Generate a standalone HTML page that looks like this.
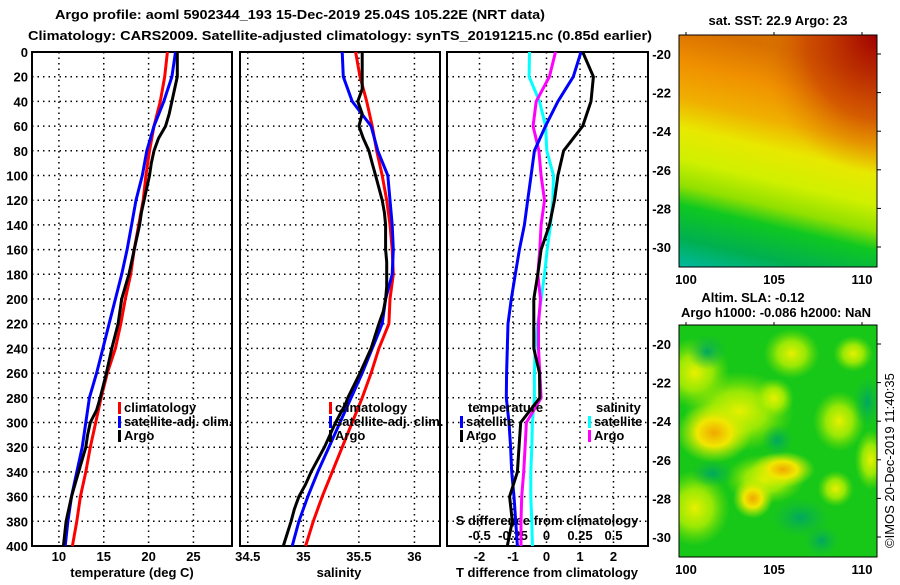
<!DOCTYPE html>
<html><head><meta charset="utf-8"><style>
body{margin:0;background:#fff;}
svg text{font-family:"Liberation Sans",sans-serif;font-weight:bold;font-size:13px;fill:#000;}
</style></head><body>
<svg id="chart" width="900" height="580" xmlns="http://www.w3.org/2000/svg">
<defs>
<linearGradient id="sstg" x1="0.2" y1="0" x2="0" y2="1">
<stop offset="0" stop-color="#d87000"/><stop offset="0.15" stop-color="#f09000"/>
<stop offset="0.3" stop-color="#f0b000"/><stop offset="0.42" stop-color="#e8e800"/>
<stop offset="0.55" stop-color="#d0f000"/><stop offset="0.66" stop-color="#90e000"/>
<stop offset="0.74" stop-color="#10c820"/><stop offset="0.88" stop-color="#00b050"/>
<stop offset="1" stop-color="#00b8a0"/></linearGradient>
<radialGradient id="redc" cx="1" cy="0" r="0.6"><stop offset="0" stop-color="#a00000"/><stop offset="0.6" stop-color="#c84000" stop-opacity="0.7"/><stop offset="1" stop-color="#e08000" stop-opacity="0"/></radialGradient>
<radialGradient id="yb"><stop offset="0" stop-color="#f0a800"/><stop offset="0.45" stop-color="#f0e800"/><stop offset="1" stop-color="#c0f000" stop-opacity="0"/></radialGradient>
<radialGradient id="yl"><stop offset="0" stop-color="#e8f000"/><stop offset="0.5" stop-color="#b8f000" stop-opacity="0.8"/><stop offset="1" stop-color="#80e000" stop-opacity="0"/></radialGradient>
<radialGradient id="gd"><stop offset="0" stop-color="#00a860"/><stop offset="1" stop-color="#10b840" stop-opacity="0"/></radialGradient>
</defs>
<text x="55" y="19" textLength="490" lengthAdjust="spacingAndGlyphs" font-size="15">Argo profile: aoml 5902344_193 15-Dec-2019 25.04S 105.22E (NRT data)</text>
<text x="28" y="40" textLength="624" lengthAdjust="spacingAndGlyphs" font-size="15">Climatology: CARS2009. Satellite-adjusted climatology: synTS_20191215.nc (0.85d earlier)</text>
<g id="plots"></g>
<g id="maps"></g>
<text transform="translate(894,548) rotate(-90)" font-size="12" style="font-weight:normal">©IMOS 20-Dec-2019 11:40:35</text>
</svg>
<script>
const depths = [0,20,40,60,80,100,120,140,160,180,200,220,240,260,280,300,320,340,360,380,400];
const tempClim = [22.1,21.8,21.3,20.6,20.1,19.7,19.4,18.9,18.4,18.0,17.4,16.9,16.3,15.4,14.7,14.1,13.5,13.0,12.4,12.0,11.5];
const tempSat  = [23.0,22.6,21.7,20.6,19.8,19.3,18.6,18.1,17.6,17.0,16.3,15.6,14.9,14.2,13.4,13.0,12.6,12.0,11.4,11.0,10.7];
const argoDepths = [0,20,30,40,50,60,70,80,90,100,120,130,140,150,160,170,180,190,200,210,220,240,260,280,285,290,300,310,320,340,350,360,370,380,400];
const tempArgo = [23.2,23.2,22.9,22.6,22.3,21.9,21.1,20.6,20.3,20.1,19.5,19.2,19.0,18.7,18.4,18.1,17.8,17.4,17.0,16.8,16.6,15.9,15.3,14.6,14.4,14.2,13.5,13.2,13.0,12.2,11.8,11.4,11.1,10.8,10.5];
const salClim = [35.47,35.51,35.57,35.62,35.66,35.71,35.75,35.78,35.80,35.81,35.78,35.77,35.68,35.61,35.53,35.44,35.35,35.26,35.17,35.09,35.02];
const salSat  = [35.35,35.36,35.44,35.61,35.67,35.76,35.78,35.80,35.81,35.80,35.74,35.71,35.62,35.53,35.43,35.33,35.23,35.13,35.04,34.96,34.90];
const salArgo = [35.53,35.53,35.53,35.49,35.53,35.50,35.54,35.59,35.62,35.65,35.71,35.73,35.74,35.74,35.74,35.75,35.75,35.75,35.74,35.72,35.68,35.61,35.51,35.40,35.38,35.35,35.29,35.24,35.19,35.07,35.02,34.96,34.92,34.89,34.82];
const diffDepths = [0,20,40,60,80,100,120,140,160,180,200,220,240,260,280,300,320,340,360,380,400];
const dTsat  = [1.03,0.8,0.34,-0.03,-0.36,-0.46,-0.56,-0.66,-0.81,-0.93,-1.05,-1.15,-1.17,-1.19,-1.2,-1.12,-1.07,-1.04,-0.97,-0.92,-0.87];
const dTargo = [1.08,1.40,1.33,1.08,0.51,0.34,0.24,0.09,-0.16,-0.26,-0.38,-0.38,-0.38,-0.21,-0.2,-0.77,-0.82,-0.87,-1.1,-1.02,-1.17];
const dSsat  = [-0.127,-0.13,-0.052,-0.007,0.002,0.052,0.047,0.03,0.005,-0.015,-0.04,-0.065,-0.085,-0.09,-0.09,-0.105,-0.11,-0.117,-0.117,-0.11,-0.105];
const dSargo = [0.067,0.022,-0.077,-0.10,-0.057,-0.04,-0.015,-0.04,-0.05,-0.065,-0.045,-0.06,-0.06,-0.05,-0.04,-0.15,-0.16,-0.17,-0.185,-0.19,-0.19];
const depthTicks = [0,20,40,60,80,100,120,140,160,180,200,220,240,260,280,300,320,340,360,380,400];
const tempTicks = [10,15,20,25];
const salTicks = [34.5,35,35.5,36];
const salTickLabels = ["34.5","35","35.5","36"];
const dTTicks = [-2,-1,0,1,2];
const dSTicks = [-0.5,-0.25,0,0.25,0.5];
const dSTickLabels = ["-0.5","-0.25","0","0.25","0.5"];
const latTicks = [-20,-22,-24,-26,-28,-30];
const lonTicks = [100,105,110];

const NS='http://www.w3.org/2000/svg';
const Y0=52, Y1=546;
const yScale = d => Y0 + (d/400)*(Y1-Y0);
function el(tag, attrs, parent){const e=document.createElementNS(NS,tag);for(const k in attrs)e.setAttribute(k,attrs[k]);parent.appendChild(e);return e;}
const plots=document.getElementById('plots');
const panels=[
 {name:'temperature-panel',x0:32,x1:232,vmin:7.0,vmax:29.3},
 {name:'salinity-panel',x0:240,x1:440,vmin:34.43,vmax:36.23},
 {name:'difference-panel',x0:447,x1:648,vmin:-2.97,vmax:3.03}
];
function panel(p){
 const g=el('g',{},plots);
 
 
 p.g=g; p.sx=v=>p.x0+(v-p.vmin)/(p.vmax-p.vmin)*(p.x1-p.x0);
 return p;
}
panels.forEach(panel);
function gridH(p){depthTicks.forEach(d=>{if(d===0||d===400)return;const l=el('line',{x1:p.x0,x2:p.x1,y1:yScale(d),y2:yScale(d),stroke:'#000','stroke-width':1.5,'stroke-dasharray':'1.5,4'},p.g);});}
function gridV(p,ticks){ticks.forEach(v=>{const x=p.sx(v);const l=el('line',{x1:x,x2:x,y1:Y0,y2:Y1,stroke:'#000','stroke-width':1.5,'stroke-dasharray':'1.5,4'},p.g);});}
function frame(p){const r=el('rect',{x:p.x0,y:Y0,width:p.x1-p.x0,height:Y1-Y0,fill:'none',stroke:'#000','stroke-width':2},p.g);}
function line(p,ds,vs,color,name,sx){const f=sx||p.sx;const pts=ds.map((d,i)=>f(vs[i]).toFixed(1)+','+yScale(d).toFixed(1)).join(' ');const l=el('polyline',{points:pts,fill:'none',stroke:color,'stroke-width':3,'stroke-linejoin':'round'},p.g);}
function txt(parent,x,y,s,anchor,name,size){const t=el('text',{x:x,y:y,'text-anchor':anchor||'start'},parent);if(size)t.setAttribute('font-size',size);t.textContent=s;return t;}
function legend(p,x,y,items){items.forEach((it,i)=>{const r=el('rect',{x:x,y:y+i*14-10,width:3,height:12,fill:it[0]},p.g);txt(p.g,x+6,y+i*14,it[1],'start','legend-entry');});}

const P1=panels[0];
gridH(P1);gridV(P1,tempTicks);frame(P1);
depthTicks.forEach(d=>txt(P1.g,28,yScale(d)+5,String(d),'end','depth-tick-label'));
tempTicks.forEach(v=>txt(P1.g,P1.sx(v),561,String(v),'middle','temp-tick-label'));
txt(P1.g,132,577,'temperature (deg C)','middle','x-axis-title');
line(P1,depths,tempClim,'#f00','temp-climatology-line');
line(P1,depths,tempSat,'#00f','temp-satellite-line');
line(P1,argoDepths,tempArgo,'#000','temp-argo-line');
legend(P1,118,412,[['#f00','climatology'],['#00f','satellite-adj. clim.'],['#000','Argo']]);

const P2=panels[1];
gridH(P2);gridV(P2,salTicks);frame(P2);
salTicks.forEach((v,i)=>txt(P2.g,P2.sx(v),561,salTickLabels[i],'middle','salinity-tick-label'));
txt(P2.g,339,577,'salinity','middle','x-axis-title');
line(P2,depths,salClim,'#f00','sal-climatology-line');
line(P2,depths,salSat,'#00f','sal-satellite-line');
line(P2,argoDepths,salArgo,'#000','sal-argo-line');
legend(P2,329,412,[['#f00','climatology'],['#00f','satellite-adj. clim.'],['#000','Argo']]);

const P3=panels[2];
gridH(P3);gridV(P3,dTTicks);frame(P3);
const sS=v=>P3.sx(v*4);
dTTicks.forEach(v=>txt(P3.g,P3.sx(v),561,String(v),'middle','dT-tick-label'));
dSTicks.forEach((v,i)=>txt(P3.g,sS(v),540,dSTickLabels[i],'middle','dS-tick-label'));
txt(P3.g,547,525,'S difference from climatology','middle','s-axis-title');
txt(P3.g,547,577,'T difference from climatology','middle','x-axis-title');
line(P3,diffDepths,dSsat,'#0ff','dS-satellite-line',sS);
line(P3,diffDepths,dSargo,'#f0f','dS-argo-line',sS);
line(P3,diffDepths,dTsat,'#00f','dT-satellite-line');
line(P3,diffDepths,dTargo,'#000','dT-argo-line');
txt(P3.g,468,412,'temperature','start','legend-heading');
legend(P3,460,426,[['#00f','satellite'],['#000','Argo']]);
txt(P3.g,596,412,'salinity','start','legend-heading');
legend(P3,588,426,[['#0ff','satellite'],['#f0f','Argo']]);

const maps=document.getElementById('maps');
function map(y0,name,fillFn,titles){
 const g=el('g',{},maps);
 
 
 const x0=679,x1=877,y1=y0+232;
 const lonX=v=>686+(v-100)*17.6;
 const latY=v=>y0+19+(-20-v)*19.3;
 const clip=el('clipPath',{id:name+'-clip'},g);
 el('rect',{x:x0,y:y0,width:x1-x0,height:y1-y0},clip);
 const inner=el('g',{'clip-path':'url(#'+name+'-clip)'},g);
 fillFn(inner,x0,y0,x1,y1,lonX,latY);
 const r=el('rect',{x:x0,y:y0,width:x1-x0,height:y1-y0,fill:'none',stroke:'#000','stroke-width':1},g);
 
 latTicks.forEach(v=>{txt(g,671,latY(v)+5,String(v),'end','lat-tick-label');el('line',{x1:x1,x2:x1+4,y1:latY(v),y2:latY(v),stroke:'#000'},g);});
 lonTicks.forEach(v=>{txt(g,lonX(v),y1+17,String(v),'middle','lon-tick-label',14);el('line',{x1:lonX(v),x2:lonX(v),y1:y0,y2:y0-3,stroke:'#000'},g);});
 titles.forEach(t=>txt(g,t[0],t[1],t[2],'middle','map-title'));
}
map(35,'sst-map',(g,x0,y0,x1,y1)=>{
 el('rect',{x:x0,y:y0,width:x1-x0,height:y1-y0,fill:'url(#sstg)'},g);
 el('rect',{x:x0,y:y0,width:x1-x0,height:y1-y0,fill:'url(#redc)'},g);
},[[778,25,'sat. SST: 22.9 Argo: 23']]);
map(325,'sla-map',(g,x0,y0,x1,y1,lx,ly)=>{
 el('rect',{x:x0,y:y0,width:x1-x0,height:y1-y0,fill:'#18c818'},g);
 const blobs=[['yl',100.5,-21.5,35,35],['yl',103,-23.5,55,40],['yl',106,-20.5,28,25],['yl',105,-22.8,20,20],['yl',108.7,-24,26,30],['yl',100.5,-28.5,35,38],['yl',104.5,-27,40,25],['yl',110.5,-26,16,30],['yl',108.5,-27.5,18,18],['yl',109.5,-20.5,20,18],['yb',101.6,-24.6,38,30],['yb',105.5,-26.5,32,18],['yb',103.8,-28,20,20],['gd',101.2,-20.4,20,18],['gd',105.2,-25,16,16],['gd',107.7,-30.2,18,16],['gd',110.3,-23,14,26],['gd',101.5,-26.7,22,14],['gd',106.5,-29,30,20]];
 blobs.forEach(b=>{const e=el('ellipse',{cx:lx(b[1]),cy:ly(b[2]),rx:b[3],ry:b[4],fill:'url(#'+b[0]+')'},g);});
},[[753,302,'Altim. SLA: -0.12'],[776,317,'Argo h1000: -0.086 h2000: NaN']]);
</script>
</body></html>
